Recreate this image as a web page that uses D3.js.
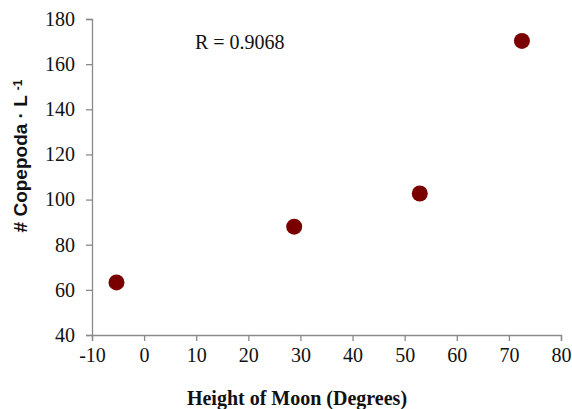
<!DOCTYPE html>
<html><head><meta charset="utf-8">
<script src="https://cdn.jsdelivr.net/npm/d3@7"></script>
<style>body{margin:0;background:#fff}svg{display:block}</style>
</head><body>
<script>
const moonHeight = [-5.3, 28.8, 52.9, 72.5];
const copepods = [63.3, 88.0, 102.7, 170.3];
const xTicks = [-10, 0, 10, 20, 30, 40, 50, 60, 70, 80];
const yTicks = [40, 60, 80, 100, 120, 140, 160, 180];
const rLabel = "R = 0.9068";

const W = 572, H = 409;
const svg = d3.select("body").append("svg").attr("width", W).attr("height", H);
const x = d3.scaleLinear().domain([-10, 80]).range([92, 561]);
const y = d3.scaleLinear().domain([40, 180]).range([335, 19]);

const serif = "'Liberation Serif','Times New Roman',serif";
const axisColor = "#8a8a8a";

const gx = svg.append("g").attr("transform", "translate(0,335)")
  .call(d3.axisBottom(x).tickValues(xTicks).tickSize(6).tickPadding(7).tickFormat(d => String(d)));
const gy = svg.append("g").attr("transform", "translate(92,0)")
  .call(d3.axisLeft(y).tickValues(yTicks).tickSize(6).tickPadding(11).tickFormat(d => String(d)));
[gx, gy].forEach(g => {
  g.select(".domain").attr("stroke", axisColor).attr("stroke-width", 1.3);
  g.selectAll(".tick line").attr("stroke", axisColor).attr("stroke-width", 1.3);
  g.selectAll(".tick text").attr("fill", "#111").style("font-family", serif).style("font-size", "20px");
});

svg.append("g").selectAll("circle").data(moonHeight).join("circle")
  .attr("cx", d => x(d)).attr("cy", (d, i) => y(copepods[i])).attr("r", 8)
  .attr("fill", "#7a0000");

svg.append("text").attr("x", 195).attr("y", 49).text(rLabel)
  .style("font-family", serif).style("font-size", "20px").attr("fill", "#111");

svg.append("text").attr("x", 297).attr("y", 405).attr("text-anchor", "middle")
  .text("Height of Moon (Degrees)")
  .style("font-family", serif).style("font-size", "20px").style("font-weight", "bold").attr("fill", "#111");

const yt = svg.append("text").attr("transform", "translate(27,156) rotate(-90)")
  .attr("text-anchor", "middle")
  .style("font-family", "'Liberation Sans',Arial,sans-serif").style("font-size", "19px")
  .style("font-weight", "bold").attr("fill", "#111");
yt.append("tspan").text("# Copepoda · L ");
yt.append("tspan").attr("dy", "-0.45em").style("font-size", "12px").text("-1");
</script>
</body></html>
